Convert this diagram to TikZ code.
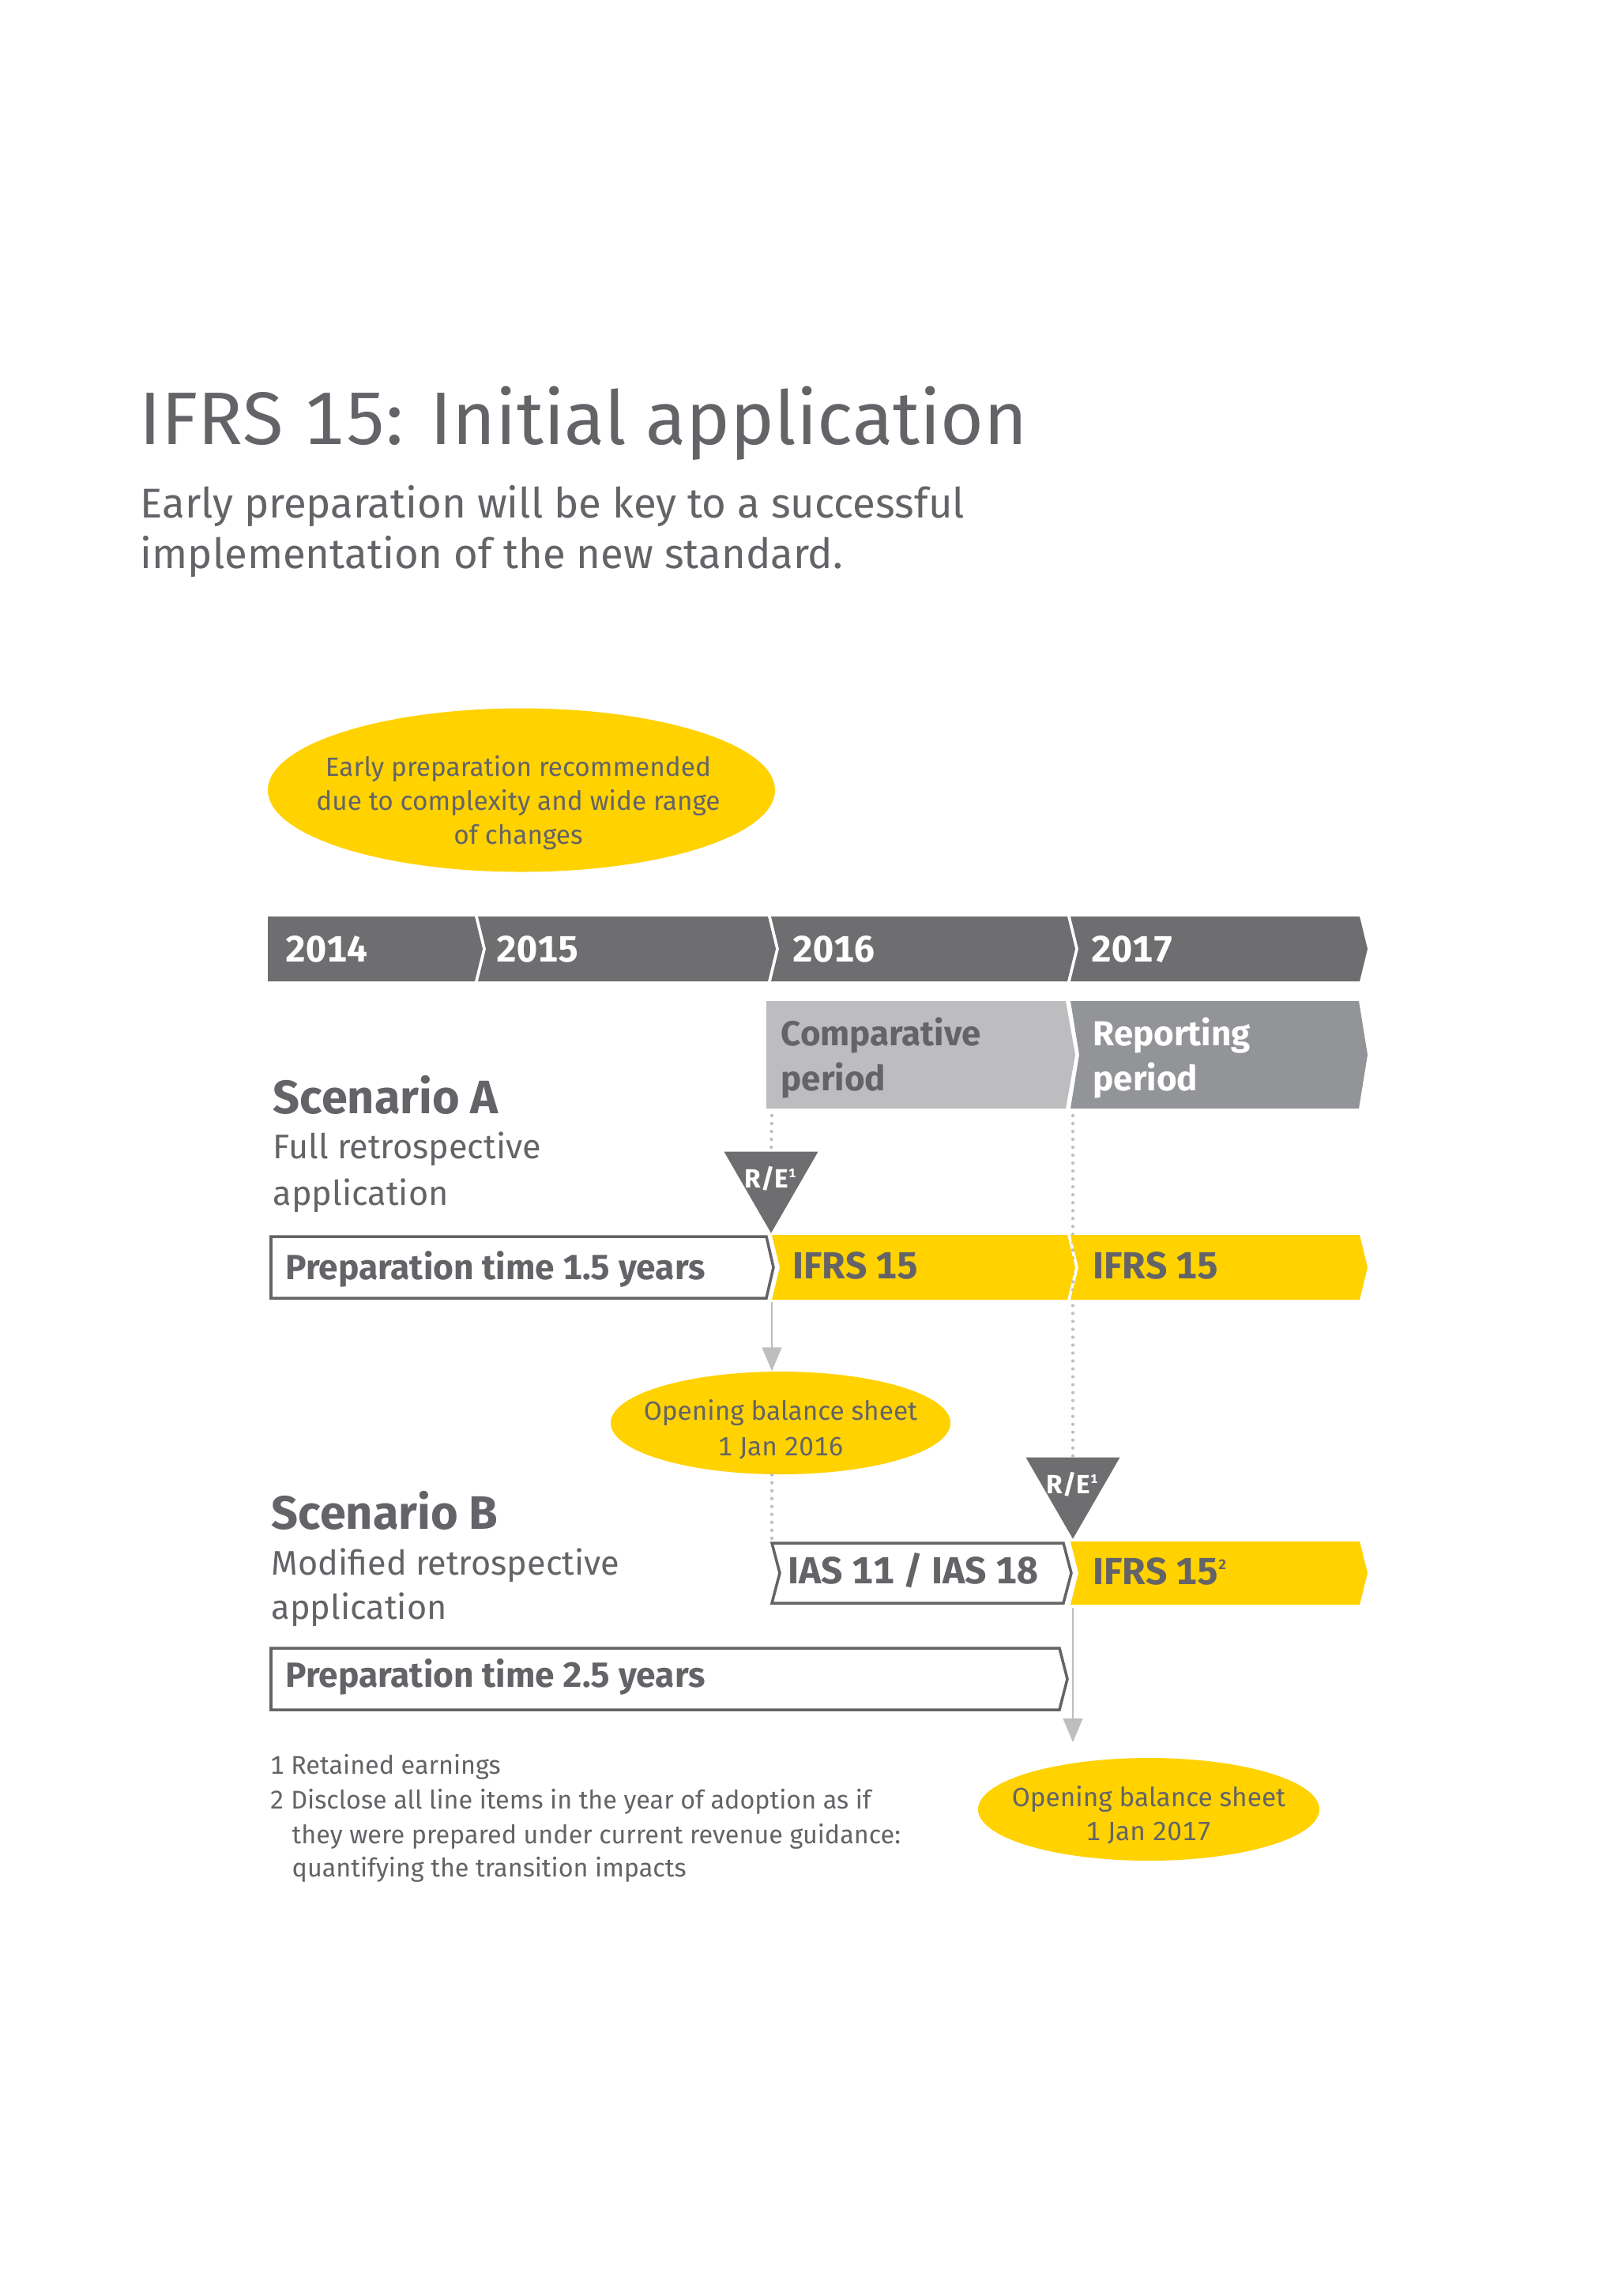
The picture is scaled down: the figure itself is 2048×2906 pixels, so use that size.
\documentclass[tikz,border=0pt]{standalone}
\usepackage{fontspec}
\setmainfont{Fira Sans}[Numbers=Monospaced]
\usetikzlibrary{arrows.meta,shapes.geometric}
\definecolor{eytext}{RGB}{100,100,104}
\definecolor{eydark}{RGB}{110,110,113}
\definecolor{eymid}{RGB}{147,148,151}
\definecolor{eylight}{RGB}{189,189,192}
\definecolor{eyyellow}{RGB}{255,210,0}
\definecolor{eyline}{RGB}{190,190,192}
\begin{document}
\begin{tikzpicture}[x=0.1mm, y=-0.1mm,
      every node/.style={inner sep=0pt, text=eytext},
      txt/.style={anchor=base west, font=\fontsize{#1}{#1}\selectfont},
      bold/.style={anchor=base west, font=\bfseries\fontsize{#1}{#1}\selectfont},
      ctr/.style={anchor=base, font=\fontsize{9.5}{11}\selectfont},
      yearbox/.style={fill=eydark},
      prepbox/.style={draw=eytext, line width=1pt, fill=white},
      ifrsbox/.style={fill=eyyellow},
      bubble/.style={ellipse, fill=eyyellow},
      marker/.style={regular polygon, regular polygon sides=3, shape border rotate=180,
        fill=eydark, minimum size=13.74mm, text=white, font=\bfseries\fontsize{9.5}{10}\selectfont},
      dots/.style={draw=eyline, line width=1.2pt, line cap=round, dash pattern=on 0pt off 2.85pt},
      pointer/.style={draw=eyline, line width=0.6pt, -{Triangle[length=8.5pt, width=7pt]}}
      ]
      \useasboundingbox (0,0) rectangle (2048,2906);
      \fill[white] (0,0) rectangle (2048,2906);

      \coordinate (cmpfoot) at (977,1412);
      \coordinate (repfoot) at (1358,1412);
      \coordinate (seamA) at (977,1648);
      \coordinate (seamB) at (1358,2035);
      \coordinate (pinB) at (1358,2205);
      \coordinate (iasTop) at (977,1951);

      \node[bubble, minimum width=64.2mm, minimum height=20.7mm] (early) at (660,1000) {};
      \node[bubble, minimum width=43mm, minimum height=13mm] (open16) at (988,1801) {};
      \node[bubble, minimum width=43.2mm, minimum height=13mm] (open17) at (1454,2290) {};
      \node[marker] (reA) at (976,1492) {\makebox[0pt]{R/E\textsuperscript{\fontsize{4.5}{5}\selectfont 1}}};
      \node[marker] (reB) at (1358,1879) {\makebox[0pt]{R/E\textsuperscript{\fontsize{4.5}{5}\selectfont 1}}};

      \draw[dots] (cmpfoot) -- (reA.90);
      \draw[dots] (repfoot) -- (reB.90);
      \draw[dots] (seamA |- open16.south) -- (iasTop);

      \fill[yearbox] (339,1160) -- (601,1160) -- (611,1201) -- (601,1242) -- (339,1242) -- cycle;
      \fill[yearbox] (605,1160) -- (972,1160) -- (982,1201) -- (972,1242) -- (605,1242) -- (615,1201) -- cycle;
      \fill[yearbox] (976,1160) -- (1351,1160) -- (1361,1201) -- (1351,1242) -- (976,1242) -- (986,1201) -- cycle;
      \fill[yearbox] (1355,1160) -- (1721,1160) -- (1731,1201) -- (1721,1242) -- (1355,1242) -- (1365,1201) -- cycle;

      \fill[eylight] (970,1267) -- (1349,1267) -- (1361,1335) -- (1349,1403) -- (970,1403) -- cycle;
      \fill[eymid] (1355,1267) -- (1720,1267) -- (1731,1335) -- (1720,1403) -- (1355,1403) -- (1366,1335) -- cycle;

      \draw[prepbox] (343,1565) -- (970,1565) -- (979,1604) -- (970,1643) -- (343,1643) -- cycle;
      \fill[ifrsbox] (977,1563) -- (1351,1563) -- (1361,1604) -- (1351,1645) -- (977,1645) -- (987,1604) -- cycle;
      \fill[ifrsbox] (1355,1563) -- (1721,1563) -- (1731,1604) -- (1721,1645) -- (1355,1645) -- (1365,1604) -- cycle;

      \draw[prepbox] (977,1953) -- (1346,1953) -- (1356,1991) -- (1346,2029) -- (977,2029) -- (987,1991) -- cycle;
      \fill[ifrsbox] (1355,1951) -- (1721,1951) -- (1731,1991) -- (1721,2031) -- (1355,2031) -- (1365,1991) -- cycle;
      \draw[prepbox] (343,2086) -- (1341,2086) -- (1351,2125) -- (1341,2164) -- (343,2164) -- cycle;

      \draw[pointer] (seamA) -- (seamA |- open16.north);
      \draw[pointer] (seamB) -- (pinB);

      \node[txt=26.8] (title) at (176,562) {IFRS 15: Initial application};
      \node[txt=15] (sub1) at (177,655) {Early preparation will be key to a successful};
      \node[txt=15] (sub2) at (177,719) {implementation of the new standard.};

      \node[ctr] (early1) at (656,982) {Early preparation recommended};
      \node[ctr] (early2) at (656,1025) {due to complexity and wide range};
      \node[ctr] (early3) at (656,1068) {of changes};

      \node[bold=13.2, text=white] (y2014) at (361,1217) {2014};
      \node[bold=13.2, text=white] (y2015) at (628,1217) {2015};
      \node[bold=13.2, text=white] (y2016) at (1003,1217) {2016};
      \node[bold=13.2, text=white] (y2017) at (1381,1217) {2017};

      \node[bold=12.5] (cmp1) at (988,1323) {Comparative};
      \node[bold=12.5] (cmp2) at (988,1380) {period};
      \node[bold=12.5, text=white] (rep1) at (1383,1323) {Reporting};
      \node[bold=12.5, text=white] (rep2) at (1383,1380) {period};

      \node[bold=16.9] (scA) at (345,1409) {Scenario A};
      \node[txt=12.3] (scA1) at (345,1466) {Full retrospective};
      \node[txt=12.3] (scA2) at (345,1525) {application};
      \node[bold=16.9] (scB) at (343,1935) {Scenario B};
      \node[txt=12.3] (scB1) at (343,1993) {Modified retrospective};
      \node[txt=12.3] (scB2) at (343,2049) {application};

      \node[bold=12.6] (prepA) at (361,1619) {Preparation time 1.5 years};
      \node[bold=13.6] (ifrsA1) at (1003,1618) {IFRS 15};
      \node[bold=13.6] (ifrsA2) at (1383,1618) {IFRS 15};
      \node[bold=13.6] (ias) at (997,2004) {IAS 11 / IAS 18};
      \node[bold=13.6] (ifrsB) at (1383,2005) {IFRS 15\textsuperscript{\fontsize{5}{5}\selectfont 2}};
      \node[bold=12.6] (prepB) at (361,2135) {Preparation time 2.5 years};

      \node[ctr] (op16a) at (988,1797) {Opening balance sheet};
      \node[ctr] (op16b) at (988,1842) {1 Jan 2016};
      \node[ctr] (op17a) at (1454,2286) {Opening balance sheet};
      \node[ctr] (op17b) at (1454,2329) {1 Jan 2017};

      \node[txt=9.2] (fn1) at (341,2245) {1 Retained earnings};
      \node[txt=9.2] (fn2) at (341,2289) {2 Disclose all line items in the year of adoption as if};
      \node[txt=9.2] (fn3) at (369,2333) {they were prepared under current revenue guidance:};
      \node[txt=9.2] (fn4) at (369,2375) {quantifying the transition impacts};
    \end{tikzpicture}
\end{document}
